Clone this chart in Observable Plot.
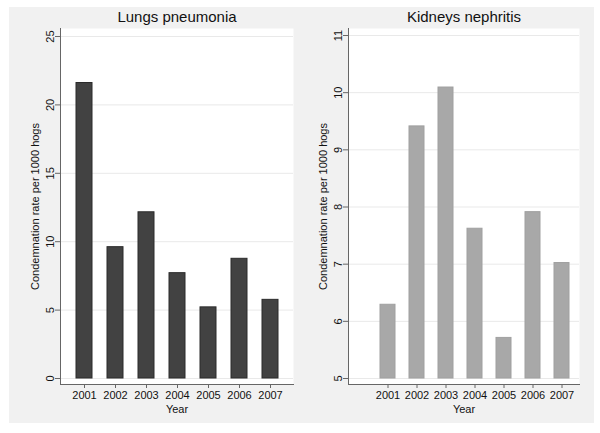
<!DOCTYPE html>
<html>
<head>
<meta charset="utf-8">
<script src="https://cdn.jsdelivr.net/npm/d3@7"></script>
<script src="https://cdn.jsdelivr.net/npm/@observablehq/plot@0.6"></script>
<style>
  html, body { margin: 0; padding: 0; background: #ffffff; }
  body { width: 600px; height: 433px; position: relative; overflow: hidden; font-family: "Liberation Sans", Arial, Helvetica, sans-serif; }
  #bg { position: absolute; left: 9px; top: 7px; width: 585px; height: 416px; background: #f1f1f1; }
  .panel { position: absolute; top: 7px; }
  #left { left: 9px; }
  #right { left: 300px; }
  .panel svg { background: transparent !important; overflow: visible; }
</style>
</head>
<body>
<div id="bg"></div>
<div id="left" class="panel"></div>
<div id="right" class="panel"></div>
<script>
const years = ["2001", "2002", "2003", "2004", "2005", "2006", "2007"];
const lungsValues = [21.6, 9.6, 12.15, 7.7, 5.2, 8.75, 5.75];
const kidneysValues = [6.29, 9.41, 10.09, 7.62, 5.71, 7.91, 7.02];
const lungsTicks = [0, 5, 10, 15, 20, 25];
const kidneysTicks = [5, 6, 7, 8, 9, 10, 11];
const titles = ["Lungs pneumonia", "Kidneys nephritis"];
const yLabel = "Condemnation rate per 1000 hogs";
const xLabel = "Year";

const lungs = years.map((y, i) => ({year: y, value: lungsValues[i]}));
const kidneys = years.map((y, i) => ({year: y, value: kidneysValues[i]}));

const font = "'Liberation Sans', Arial, Helvetica, sans-serif";

function panel({data, ticks, domain, title, fill, stroke, width, marginLeft, marginRight, insetTop, insetBottom, xInsetLeft, paddingOuter}) {
  return Plot.plot({
    width, height: 416,
    marginLeft, marginRight, marginTop: 21, marginBottom: 39,
    style: {fontFamily: font, fontSize: "11px", color: "#111", background: "transparent"},
    x: {type: "band", domain: years, paddingInner: 0.5, paddingOuter, insetLeft: xInsetLeft},
    y: {domain, insetTop, insetBottom},
    marks: [
      Plot.frame({fill: "white", stroke: null}),
      Plot.gridY(ticks, {stroke: "#e9e9e9", strokeOpacity: 1}),
      Plot.barY(data, {x: "year", y1: domain[0], y2: "value", fill, stroke, strokeWidth: 1}),
      Plot.frame({anchor: "left", stroke: "#666"}),
      Plot.frame({anchor: "bottom", stroke: "#666"}),
      Plot.axisY(ticks, {tickRotate: -90, tickSize: 5, tickPadding: 2, tickFormat: d3.format("d"), stroke: "#666", label: yLabel, labelAnchor: "center", labelArrow: "none", labelOffset: 29, fontSize: 11}),
      Plot.axisX({tickSize: 4, tickPadding: 3, stroke: "#666", label: xLabel, labelAnchor: "center", labelArrow: "none", labelOffset: 28, fontSize: 11}),
      Plot.text([title], {frameAnchor: "top", dy: -11, fontSize: 15, lineAnchor: "middle", fill: "#111"})
    ]
  });
}

document.getElementById("left").append(panel({
  data: lungs, ticks: lungsTicks, domain: [0, 25], title: titles[0],
  fill: "#424242", stroke: "#2b2b2b", width: 284, marginLeft: 51, marginRight: 0,
  insetTop: 8, insetBottom: 6, xInsetLeft: 0, paddingOuter: 0.5
}));
document.getElementById("right").append(panel({
  data: kidneys, ticks: kidneysTicks, domain: [5, 11], title: titles[1],
  fill: "#a8a8a8", stroke: "#a0a0a0", width: 294, marginLeft: 48, marginRight: 15,
  insetTop: 7, insetBottom: 6, xInsetLeft: 22, paddingOuter: 0.24
}));
</script>
</body>
</html>
